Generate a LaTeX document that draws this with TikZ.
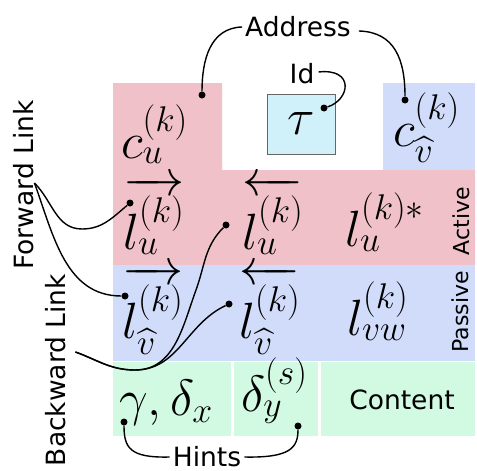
\RequirePackage{fix-cm}
\documentclass[tikz,border=0pt]{standalone}
\usepackage{amsmath,amssymb}
\usepackage{fontspec}
\newfontfamily\labelfont{DejaVu Sans}
\usetikzlibrary{calc}
\definecolor{slotred}{HTML}{F0C1C8}
\definecolor{slotblue}{HTML}{D0DCFA}
\definecolor{slotgreen}{HTML}{D2FAE2}
\definecolor{slotcyan}{HTML}{D0F0FA}
\tikzset{
    word/.style={font=\labelfont\fontsize{26.5}{30}\selectfont,inner sep=0pt},
    tag/.style={font=\labelfont\fontsize{22}{26}\selectfont,inner sep=0pt,rotate=90},
    field/.style={font=\fontsize{51}{56}\selectfont,inner sep=0pt,anchor=base west},
    pin/.style={circle,fill=black,inner sep=0pt,minimum size=7pt},
    link/.style={draw,line width=1.4pt}
}

\begin{document}
\begin{tikzpicture}[x=1pt,y=-1pt]
\useasboundingbox (0,0) rectangle (477,471);
% slot layout
\fill[slotred] (113,83) -| (222,170) -| (475,265) -| cycle;
\fill[slotblue] (383,83) rectangle (475,170);
\fill[slotblue] (113,265) rectangle (475,361);
\fill[slotgreen] (113,362) rectangle (231,436);
\fill[slotgreen] (234,362) rectangle (318,436);
\fill[slotgreen] (321,362) rectangle (475,436);
\node[field,anchor=center,draw=black!60,line width=0.8pt,fill=slotcyan,minimum width=68pt,minimum height=60pt] (tau) at (301,124) {$\tau$};

% fields
\node[field] (cu) at (121,158) {$c_u^{(k)}$};
\node[field] (cv) at (393,146) {$c_{\widehat{v}}^{(k)}$};
\node[field] (fu) at (123,249) {$\overrightarrow{l_u^{(k)}}$};
\node[field] (bu) at (242,249) {$\overleftarrow{l_u^{(k)}}$};
\node[field] (au) at (345,246) {$l_u^{(k)*}$};
\node[field] (fv) at (122,338) {$\overrightarrow{l_{\widehat{v}}^{(k)}}$};
\node[field] (bv) at (239,338) {$\overleftarrow{l_{\widehat{v}}^{(k)}}$};
\node[field] (pv) at (347,335) {$l_{vw}^{(k)}$};
\node[field] (hx) at (119,415) {$\gamma,\delta_x$};
\node[field] (hy) at (241,411) {$\delta_y^{(s)}$};
\node[word] (content) at (402,400) {Content};
\node[tag] (active) at (461,221) {Active};
\node[tag] (passive) at (460,312) {Passive};

% captions
\node[word] (addr) at (298,27) {Address};
\node[word] (id) at (302,74) {Id};
\node[word] (hints) at (207,457) {Hints};
\node[word,rotate=90] (fwd) at (24,185) {Forward Link};
\node[word,rotate=90] (bwd) at (56,370) {Backward Link};

% pins
\node[pin] (pcu) at (202,95) {};
\node[pin] (pcv) at (405,100) {};
\node[pin] (ptau) at (324,108) {};
\node[pin] (pfu) at (130,203) {};
\node[pin] (pbu) at (226,225) {};
\node[pin] (pfv) at (125,296) {};
\node[pin] (pbv) at (229,304) {};
\node[pin] (phx) at (124,422) {};
\node[pin] (phy) at (298,426) {};

% links
\path[link] ([xshift=-3pt]addr.west) .. controls (210,28) and (202,60) .. (pcu);
\path[link] ([xshift=8pt,yshift=-4pt]addr.east) .. controls (395,32) and (405,60) .. (pcv);
\path[link] ([xshift=4pt,yshift=2pt]id.east) .. controls (355,68) and (350,100) .. (ptau);
\path[link] ([yshift=2pt]fwd.south) to[out=-45,in=180] (82,229) to[out=0,in=-140] (pfu);
\path[link] ([yshift=2pt]fwd.south) to[out=-70,in=180] (pfv);
\path[link] ($(bwd.south)+(9,-18)$) to[out=-20,in=180] (135,370) to[out=0,in=-110] (196,290) to[out=70,in=-135] (pbu);
\path[link] ($(bwd.south)+(9,-18)$) to[out=-20,in=180] (135,370) to[out=0,in=-155] (pbv);
\path[link] ([xshift=-3pt]hints.west) .. controls (130,458) and (124,448) .. (phx);
\path[link] ([xshift=3pt]hints.east) .. controls (290,458) and (298,448) .. (phy);
\end{tikzpicture}
\end{document}
